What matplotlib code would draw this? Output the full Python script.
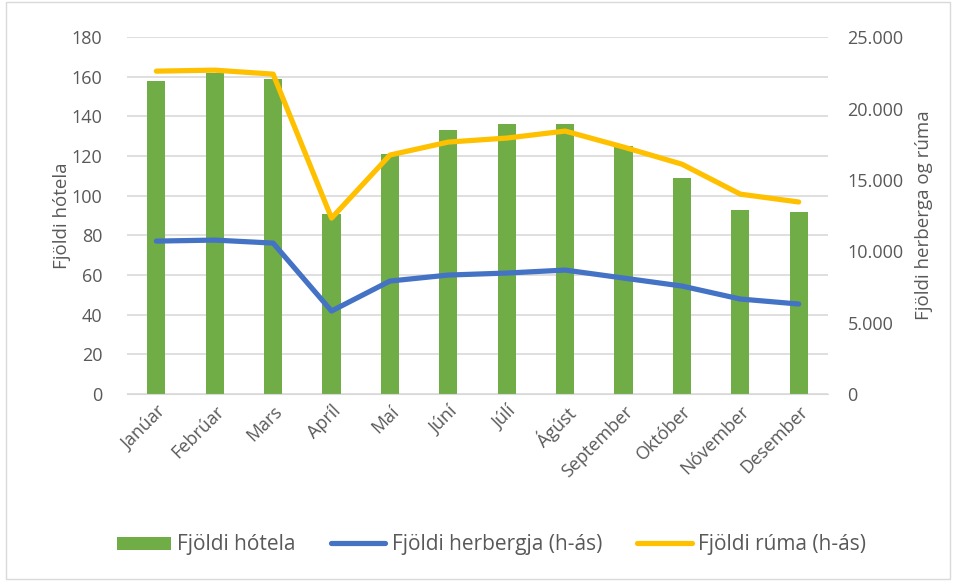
import numpy as np
import matplotlib.pyplot as plt
from matplotlib.ticker import FuncFormatter

plt.rcParams['font.family'] = ['Open Sans', 'DejaVu Sans']

manudir = ["Janúar", "Febrúar", "Mars", "Apríl", "Maí", "Júní", "Júlí",
           "Ágúst", "September", "Október", "Nóvember", "Desember"]
hotel = [158, 162, 159, 91, 121, 133, 136, 136, 125, 109, 93, 92]
herbergi = [10710, 10780, 10570, 5810, 7910, 8330, 8470, 8680, 8120, 7560, 6650, 6300]
rumi = [22620, 22690, 22410, 12320, 16740, 17650, 17930, 18420, 17300, 16100, 14000, 13450]

grar = '#595959'
x = np.arange(len(manudir))

fig = plt.figure(figsize=(9.56, 5.81), dpi=100)
ax = fig.add_axes([0.133, 0.322, 0.733, 0.614])
ax2 = ax.twinx()

ax.bar(x, hotel, width=0.31, color='#70AD47', label='Fjöldi hótela', zorder=2)
ax2.plot(x, herbergi, color='#4472C4', lw=3.75, solid_capstyle='round',
         label='Fjöldi herbergja (h-ás)')
ax2.plot(x, rumi, color='#FFC000', lw=3.75, solid_capstyle='round',
         label='Fjöldi rúma (h-ás)')

ax.set_xlim(-0.5, 11.5)
ax.set_ylim(0, 180)
ax.set_yticks(range(0, 181, 20))
ax2.set_ylim(0, 25000)
ax2.set_yticks(range(0, 25001, 5000))
ax2.yaxis.set_major_formatter(FuncFormatter(lambda v, p: f"{int(v):,}".replace(',', '.')))

ax.grid(axis='y', color='#D9D9D9', lw=1.2, zorder=0)
ax.set_axisbelow(True)
for a in (ax, ax2):
    for s in a.spines.values():
        s.set_visible(False)
    a.tick_params(length=0, colors=grar, labelsize=13)
ax.spines['bottom'].set_visible(True)
ax.spines['bottom'].set_color('#D9D9D9')

ax.set_xticks(x)
ax.set_xticklabels(manudir, rotation=45, ha='right', rotation_mode='anchor')
ax.tick_params(axis='x', pad=6)
ax.tick_params(axis='y', pad=18)
ax2.tick_params(axis='y', pad=14)

ax.set_ylabel('Fjöldi hótela', color=grar, fontsize=13.5, labelpad=0)
ax2.set_ylabel('Fjöldi herberga og rúma', color=grar, fontsize=13.5, labelpad=8)

handles = ax.get_legend_handles_labels()[0] + ax2.get_legend_handles_labels()[0]
labels = ax.get_legend_handles_labels()[1] + ax2.get_legend_handles_labels()[1]
fig.legend(handles, labels, loc='center', bbox_to_anchor=(0.514, 0.062), ncol=3,
           frameon=False, fontsize=15, labelcolor=grar, handlelength=2.6,
           handleheight=0.6, columnspacing=1.7, handletextpad=0.3)

# ramminn utan um myndina
fig.patches.append(plt.Rectangle((0.006, 0.004), 0.988, 0.992, transform=fig.transFigure,
                                 fill=False, edgecolor='#D9D9D9', lw=1))

fig.savefig('out.png', dpi=100)
